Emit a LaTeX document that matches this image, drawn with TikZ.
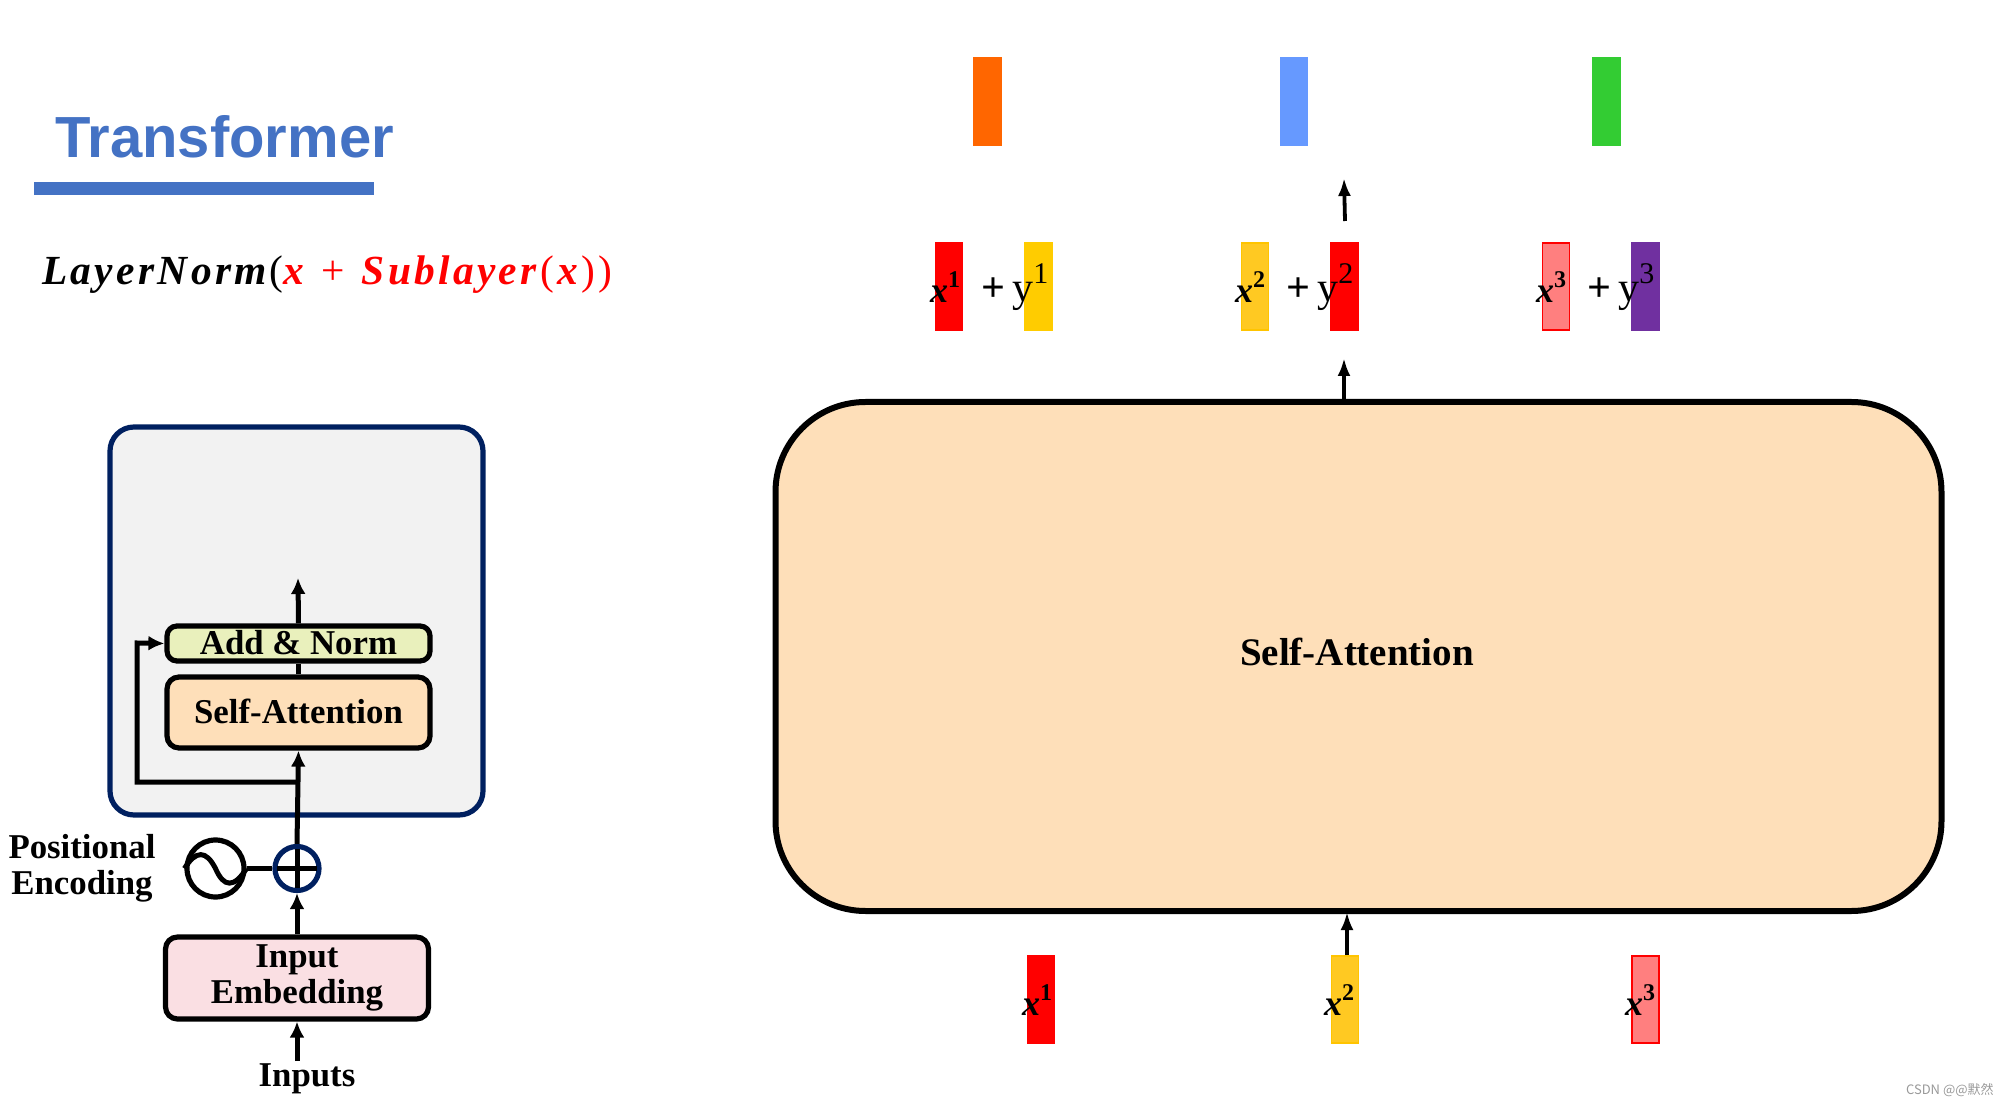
\documentclass[tikz,border=0pt]{standalone}
\usepackage{fontspec}
\setmainfont{Liberation Serif}
\newfontfamily\titlefont{Liberation Sans}
\newfontfamily\formulafont[LetterSpace=8]{Liberation Serif}
\newfontfamily\markfont{Noto Sans CJK SC}
\usepackage{xcolor}
\usepackage{tikz}
\usetikzlibrary{positioning, arrows.meta, calc}
\definecolor{titleblue}{HTML}{4472C4}
\definecolor{navy}{HTML}{002060}
\definecolor{panelgrey}{HTML}{F2F2F2}
\definecolor{attnfill}{HTML}{FEDFB9}
\definecolor{normfill}{HTML}{E9F0BC}
\definecolor{embedfill}{HTML}{FADFE3}
\definecolor{barorange}{HTML}{FF6600}
\definecolor{barblue}{HTML}{6699FF}
\definecolor{bargreen}{HTML}{33CC33}
\definecolor{baryellow}{HTML}{FFCC00}
\definecolor{baramber}{HTML}{FFC922}
\definecolor{barpink}{HTML}{FF7F7F}
\definecolor{barpurple}{HTML}{7030A0}
\newcommand{\xvec}[1]{{\bfseries\itshape x}\raisebox{0.42em}{\fontsize{12}{12}\selectfont\bfseries #1}}
\newcommand{\yvec}[1]{\textbf{+}\,y\raisebox{0.42em}{\fontsize{15}{15}\selectfont #1}}

\begin{document}
\begin{tikzpicture}[
    x=0.5pt, y=-0.5pt,
    every node/.style={align=center},
    block/.style={rectangle, draw=black, line width=2.6pt, rounded corners=6pt, inner sep=0pt, font=\fontsize{17.4}{17.6}\selectfont\bfseries},
    bar/.style={rectangle, minimum width=14.3pt, minimum height=44.5pt, inner sep=0pt},
    xlabel/.style={inner sep=0pt, font=\fontsize{18}{18}\selectfont},
    ylabel/.style={inner sep=0pt, font=\fontsize{21}{21}\selectfont},
    flow/.style={line width=2.5pt, -{Latex[length=8pt,width=7.5pt]}},
    thin flow/.style={line width=1.9pt, -{Latex[length=9pt,width=6.5pt]}},
    plain/.style={line width=2.5pt}
]
    \useasboundingbox (0,0) rectangle (2008,1106);

    % heading
    \node[anchor=base west, inner sep=0pt, text=titleblue, font=\fontsize{29}{29}\selectfont\titlefont\bfseries] (title) at (55,158) {Transformer};
    \node[rectangle, fill=titleblue, minimum width=170pt, minimum height=6.5pt, inner sep=0pt] (rule) at (204,188.5) {};
    \node[anchor=base west, inner sep=0pt, font=\fontsize{20.7}{21}\selectfont\formulafont] (formula) at (42,285)
        {\textbf{\textit{LayerNorm}}(\textcolor{red}{\textbf{\textit{x}} + \textbf{\textit{Sublayer}}(\textbf{\textit{x}}))}};

    % encoder on the left
    \node[rectangle, draw=navy, fill=panelgrey, line width=2.6pt, rounded corners=12pt, minimum width=186.5pt, minimum height=194pt] (panel) at (296.5,621) {};
    \node[block, fill=normfill, minimum width=131.5pt, minimum height=17.5pt, rounded corners=5pt] (addnorm) at (298.5,643.5) {\raisebox{1pt}{Add \& Norm}};
    \node[block, fill=attnfill, minimum width=131.5pt, minimum height=35.5pt] (selfatt) at (298.5,712.5) {\raisebox{1pt}{Self-Attention}};
    \node[block, fill=embedfill, minimum width=131.5pt, minimum height=41pt] (embed) at (297,978) {\raisebox{-1.2pt}{Input} \\ \raisebox{-1.2pt}{Embedding}};
    \node[circle, draw=navy, line width=2.6pt, minimum size=22pt, inner sep=0pt] (plus) at (297,868.5) {};
    \node[circle, draw=black, line width=2.6pt, minimum size=28.5pt, inner sep=0pt] (sine) at (215.5,868.5) {};
    \node[inner sep=0pt, font=\fontsize{17.4}{17.6}\selectfont\bfseries] (inputs) at (307,1079) {Inputs};
    \node[inner sep=0pt, font=\fontsize{17.4}{17.8}\selectfont\bfseries] (posenc) at (82,868) {Positional \\ Encoding};

    \coordinate (tee) at (297,782);
    \coordinate (bend) at (137,643);
    \coordinate (out) at (298,578);
    \coordinate (inputstart) at (297,1061);

    \draw[flow] (addnorm.north) -- (out);
    \draw[plain] (selfatt.north) -- (addnorm.south);
    \draw[flow] (plus.north) -- (selfatt.south);
    \draw[flow, line join=miter] (tee) -| (bend) -- (addnorm.west);
    \draw[flow] (embed.north) -- (plus.south);
    \draw[flow] (inputstart) -- (embed.south);
    \draw[plain] (sine.east) -- (plus.west);
    \draw[plain, shorten >=2.5pt, shorten <=2.5pt] (plus.north) -- (plus.south);
    \draw[plain, shorten >=2.5pt, shorten <=2.5pt] (plus.west) -- (plus.east);
    \draw[plain] (sine.west) .. controls (196,850) and (206,850) .. (215.5,868.5) .. controls (224,888) and (234,888) .. (sine.east);

    % attention block on the right
    \node[rectangle, draw=black, fill=attnfill, line width=3pt, rounded corners=45pt, minimum width=583pt, minimum height=254.5pt] (attn) at (1358.5,656.5) {};
    \node[inner sep=0pt, font=\fontsize{19.5}{19.5}\selectfont\bfseries] (attntext) at (1357,652) {Self-Attention};

    % outputs
    \node[bar, fill=barorange] (o1) at (987.5,101.5) {};
    \node[bar, fill=barblue] (o2) at (1294,101.5) {};
    \node[bar, fill=bargreen] (o3) at (1606.5,101.5) {};

    % sums
    \node[bar, fill=red] (sx1) at (949,286.5) {};
    \node[bar, fill=baryellow] (sy1) at (1038.5,286.5) {};
    \node[bar, fill=baramber, draw=baryellow!90!orange, minimum width=13.5pt, minimum height=43.5pt, line width=0.8pt] (sx2) at (1255,286.5) {};
    \node[bar, fill=red] (sy2) at (1344.5,286.5) {};
    \node[bar, fill=barpink, draw=red, minimum width=13.5pt, minimum height=43.5pt, line width=0.9pt] (sx3) at (1556,286.5) {};
    \node[bar, fill=barpurple] (sy3) at (1645.5,286.5) {};

    \node[xlabel] (tx1) at (945,287) {\xvec{1}};
    \node[ylabel] (ty1) at (1015,287) {\yvec{1}};
    \node[xlabel] (tx2) at (1250,287) {\xvec{2}};
    \node[ylabel] (ty2) at (1320,287) {\yvec{2}};
    \node[xlabel] (tx3) at (1551,287) {\xvec{3}};
    \node[ylabel] (ty3) at (1621,287) {\yvec{3}};

    % inputs
    \node[bar, fill=red] (in1) at (1041,999.5) {};
    \node[bar, fill=baramber, draw=baryellow!90!orange, minimum width=13.5pt, minimum height=43.5pt, line width=0.8pt] (in2) at (1345,999.5) {};
    \node[bar, fill=barpink, draw=red, minimum width=13.5pt, minimum height=43.5pt, line width=0.9pt] (in3) at (1645.5,999.5) {};

    \node[xlabel] (tin1) at (1037,1000) {\xvec{1}};
    \node[xlabel] (tin2) at (1339,1000) {\xvec{2}};
    \node[xlabel] (tin3) at (1640,1000) {\xvec{3}};

    \coordinate (upstart) at (1345,221);
    \coordinate (upend) at (1344,178);
    \coordinate (attnout) at (1344,358);
    \coordinate (attnin) at (1347,912);
    \coordinate (in2top) at (1347,955);

    \draw[thin flow] (upstart) -- (upend);
    \draw[thin flow] (attn.north -| attnout) -- (attnout);
    \draw[thin flow] (in2top) -- (attnin);

    \node[anchor=east, inner sep=0pt, text=black!40, font=\fontsize{6.5}{6.5}\selectfont\markfont] (mark) at (1994,1090) {CSDN @@默然};
\end{tikzpicture}
\end{document}
